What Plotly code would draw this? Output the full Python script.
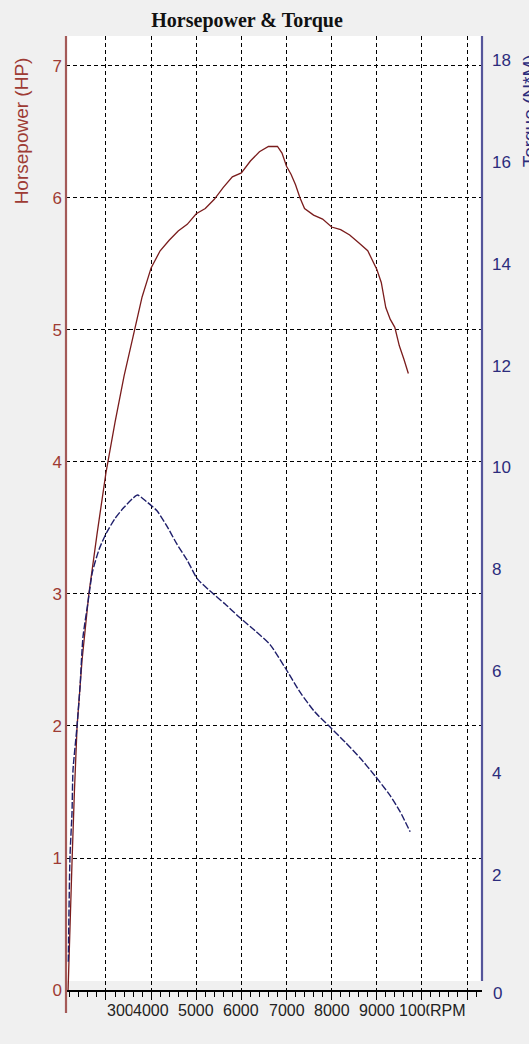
import plotly.graph_objects as go

# ---------------- data ----------------
hp_rpm = [2160, 2200, 2250, 2300, 2360, 2470, 2620, 2800, 3000, 3200, 3400, 3600,
          3800, 4000, 4200, 4400, 4600, 4800, 5000, 5200, 5400, 5600, 5800, 6000,
          6200, 6400, 6600, 6800, 6900, 7000, 7100, 7200, 7300, 7400, 7600, 7800,
          8000, 8200, 8400, 8600, 8800, 9000, 9100, 9200, 9300, 9400, 9500, 9600, 9700]
hp_val = [0.00, 0.50, 1.00, 1.50, 2.00, 2.50, 3.00, 3.45, 3.92, 4.30, 4.65, 4.95,
          5.25, 5.47, 5.60, 5.68, 5.75, 5.80, 5.88, 5.92, 5.99, 6.08, 6.16, 6.19,
          6.28, 6.35, 6.39, 6.39, 6.34, 6.24, 6.18, 6.10, 6.00, 5.92, 5.87, 5.84,
          5.78, 5.76, 5.72, 5.66, 5.60, 5.46, 5.36, 5.17, 5.08, 5.02, 4.88, 4.78, 4.67]

tq_rpm = [2165, 2202, 2247, 2269, 2357, 2424, 2490, 2600, 2700, 2850, 3000, 3200,
          3400, 3600, 3700, 3900, 4130, 4350, 4570, 4800, 5020, 5300, 5640, 5970,
          6300, 6640, 6970, 7300, 7630, 7960, 8300, 8630, 8960, 9290, 9520, 9740]
tq_val = [0.30, 2.36, 3.22, 4.06, 4.91, 5.69, 6.67, 7.35, 7.95, 8.40, 8.70, 9.00,
          9.22, 9.40, 9.46, 9.33, 9.15, 8.85, 8.50, 8.18, 7.82, 7.58, 7.32, 7.05,
          6.80, 6.52, 6.07, 5.59, 5.20, 4.91, 4.61, 4.30, 3.95, 3.57, 3.24, 2.85]

hp_ticks = [0, 1, 2, 3, 4, 5, 6, 7]
tq_ticks = [2, 4, 6, 8, 10, 12, 14, 16, 18]
tq_tick_text = ["2", "4", "6", "8", "10", "12", "14", "16", "18"]
tq_zero_label = "0"
x_ticks = [3000, 4000, 5000, 6000, 7000, 8000, 9000, 10000, 11000]
x_tick_text = ["3000", "4000", "5000", "6000", "7000", "8000", "9000", "10000", "RPM"]

title_text = "Horsepower & Torque"
hp_title = "Horsepower (HP)"
tq_title = "Torque (N*M)"

# ---------------- styling ----------------
BG = "#f0f0f0"
HP_LINE = "#7a1c1c"
HP_TEXT = "#9e3b34"
HP_AXIS = "#a45a58"
TQ_LINE = "#1e1e6a"
TQ_TEXT = "#2c2c7c"
TQ_AXIS = "#55559a"
FONT = "Liberation Sans, Arial, sans-serif"

X_RANGE = [2114, 11332]
HP_RANGE = [0, 7.227]
TQ_RANGE = [-0.255, 18.47]

fig = go.Figure()
fig.add_trace(go.Scatter(x=hp_rpm, y=hp_val, mode="lines", name="HP",
                         line=dict(color=HP_LINE, width=1.3), yaxis="y"))
fig.add_trace(go.Scatter(x=tq_rpm, y=tq_val, mode="lines", name="Torque",
                         line=dict(color=TQ_LINE, width=1.4, dash="7px,2px",
                                   shape="spline", smoothing=0.6),
                         yaxis="y2"))

annotations = []
# x tick labels as annotations so they can overlap like in the reference
for i, (v, t) in enumerate(zip(x_ticks, x_tick_text)):
    if i == 0:
        anchor = "left"
    elif i == len(x_ticks) - 1:
        anchor = "right"
    else:
        anchor = "center"
    annotations.append(dict(x=v, xref="x", y=-0.021, yref="paper", text=t,
                            showarrow=False, xanchor=anchor, yanchor="middle",
                            bgcolor=BG, borderpad=0,
                            font=dict(family=FONT, size=16, color="#222222")))
# torque "0" label sits level with the x axis, as in the reference
annotations.append(dict(x=1, xref="paper", y=-0.004, yref="paper", text=tq_zero_label,
                        showarrow=False, xanchor="left", yanchor="middle", xshift=9,
                        font=dict(family=FONT, size=17, color=TQ_TEXT)))
annotations.append(dict(x=-0.106, xref="paper", y=0.901, yref="paper", text=hp_title,
                        textangle=-90, showarrow=False, xanchor="center", yanchor="middle",
                        font=dict(family=FONT, size=19, color=HP_TEXT)))
annotations.append(dict(x=1.113, xref="paper", y=0.921, yref="paper", text=tq_title,
                        textangle=-90, showarrow=False, xanchor="center", yanchor="middle",
                        font=dict(family=FONT, size=19, color=TQ_TEXT)))

shapes = [
    # grey strip just above the x axis (white plot area ends a little above it)
    dict(type="rect", xref="paper", yref="y", x0=0, x1=1, y0=0, y1=0.068,
         fillcolor=BG, line=dict(width=0), layer="between"),
    # left (HP) axis line, extending a little below the x axis
    dict(type="line", xref="paper", yref="paper", x0=0, x1=0, y0=-0.024, y1=1,
         line=dict(color=HP_AXIS, width=2.2), layer="above"),
    # right (torque) axis line
    dict(type="line", xref="paper", yref="paper", x0=1, x1=1, y0=0.0094, y1=1,
         line=dict(color=TQ_AXIS, width=2.2), layer="above"),
]

fig.update_layout(
    width=529, height=1044, autosize=False,
    margin=dict(l=66, r=47, t=36, b=54, pad=0),
    paper_bgcolor=BG, plot_bgcolor="white",
    showlegend=False,
    title=dict(text="<b>" + title_text + "</b>", xref="container", yref="container",
               x=0.467, y=0.981, xanchor="center", yanchor="middle",
               font=dict(family="Liberation Serif, Times New Roman, serif", size=20,
                         color="#111111")),
    xaxis=dict(range=X_RANGE, tickmode="array", tickvals=x_ticks, showticklabels=False,
               ticks="outside", ticklen=8, tickwidth=1, tickcolor="black",
               showgrid=True, gridcolor="black", gridwidth=1.2, griddash="4px,3px",
               showline=True, linecolor="black", linewidth=1.5, zeroline=False,
               minor=dict(tickmode="linear", tick0=0, dtick=200, ticks="outside",
                          ticklen=5, tickwidth=1, tickcolor="black", showgrid=False)),
    yaxis=dict(range=HP_RANGE, tickmode="array", tickvals=hp_ticks,
               tickfont=dict(family=FONT, size=17, color=HP_TEXT),
               showgrid=True, gridcolor="black", gridwidth=1.2, griddash="4px,3px",
               zeroline=False, showline=False, ticks="", ticklabelstandoff=3),
    yaxis2=dict(range=TQ_RANGE, overlaying="y", side="right", tickmode="array",
                tickvals=tq_ticks, ticktext=tq_tick_text,
                tickfont=dict(family=FONT, size=17, color=TQ_TEXT),
                showgrid=False, zeroline=False, showline=False, ticks="",
                ticklabelstandoff=9),
    annotations=annotations,
    shapes=shapes,
)

fig.write_html("out.html", config={"displayModeBar": False},
               post_script="document.body.style.margin='0';"
                           "document.body.style.background='#f0f0f0';")
